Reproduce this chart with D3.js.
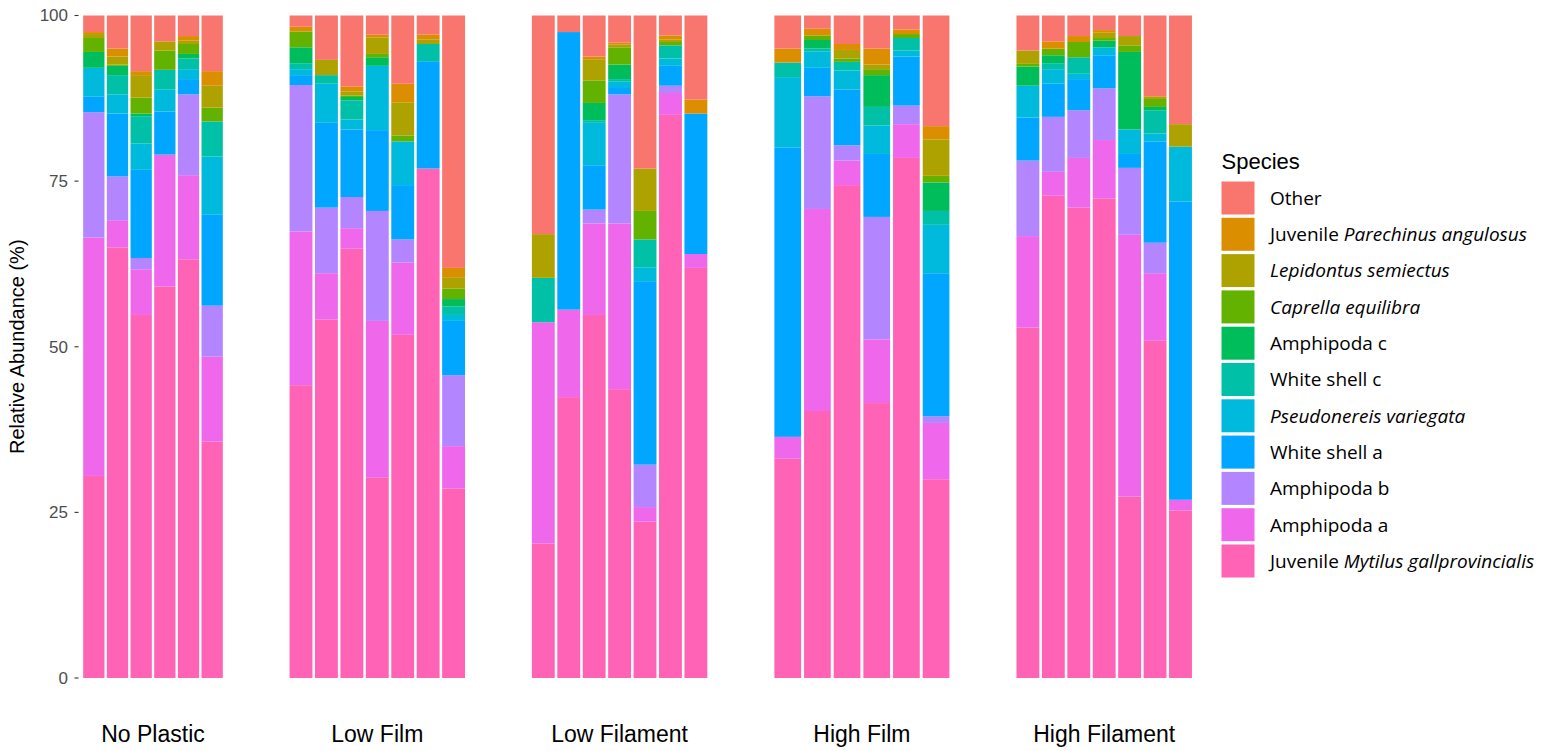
<!DOCTYPE html>
<html>
<head>
<meta charset="utf-8">
<script src="https://cdn.jsdelivr.net/npm/d3@7"></script>
<style>
  body { margin: 0; background: #fff; }
  svg { display: block; }
</style>
</head>
<body>
<div id="plot"></div>
<script>
// groups and number of samples in each
const groupNames = ["No Plastic", "Low Film", "Low Filament", "High Film", "High Filament"];
const groupSizes = [6, 7, 7, 6, 7];

// species, bottom of stack first
const speciesKeys = ["mytilus", "amphA", "amphB", "wsA", "pseudo", "wsC", "amphC", "caprella", "lepid", "parech", "other"];

// relative abundance (%) for every sample, in group order
const mytilus  = [30.5,65.0,54.8,59.1,63.2,35.7, 44.2,54.1,64.8,30.3,51.8,76.9,28.6, 20.3,42.4,54.8,43.6,23.6,85.0,61.9, 33.1,40.3,74.4,41.5,78.5,30.0, 52.9,72.8,71.0,72.4,27.4,50.9,25.3];
const amphA    = [36.0,4.1,6.9,19.9,12.7,12.8, 23.2,7.0,3.1,23.6,10.9,0,6.4, 33.4,13.2,13.8,25.0,2.2,3.3,2.1, 3.3,30.5,3.7,9.6,5.1,8.5, 13.8,3.6,7.5,8.8,39.5,10.2,1.6];
const amphB    = [18.9,6.6,1.7,0,12.2,7.7, 22.1,9.9,4.7,16.6,3.5,0,10.7, 0,0,2.1,19.5,6.4,1.1,0, 0,17.0,2.3,18.5,2.8,1.0, 11.4,8.3,7.2,7.8,10.1,4.6,0];
const wsA      = [2.4,9.5,13.3,6.5,2.3,13.8, 1.5,12.8,10.2,12.2,8.2,16.2,8.2, 0,41.9,6.7,1.1,27.7,3.0,21.2, 43.7,4.3,8.4,9.5,7.4,21.6, 6.5,5.0,4.7,5.0,2.1,15.3,45.0];
const pseudo   = [4.3,2.9,4.0,3.3,1.5,8.7, 0.9,5.9,1.5,9.7,6.6,0,0.9, 0,0,6.4,0.8,2.1,1.1,0, 10.6,2.5,2.9,4.3,0.9,7.3, 4.8,2.2,0.8,1.2,3.7,1.2,8.3];
const wsC      = [0,2.9,4.1,3.0,1.6,5.3, 0.9,1.3,2.9,0,0,2.6,1.3, 6.7,0,0.4,0.4,4.2,2.0,0, 2.2,0.4,1.3,2.8,1.9,2.1, 0,0.9,2.5,0,0,3.5,0];
const amphC    = [2.4,1.4,0.4,0,0.7,0, 2.4,0,0.5,1.3,0,0,1.1, 0,0,2.6,2.2,0,0,0, 0,1.3,0,4.8,0,4.3, 2.9,1.2,0,1.0,11.7,0.5,0];
const caprella = [2.1,0.2,2.4,2.9,1.5,2.1, 2.4,0,0.2,0.5,0.9,0,1.6, 0,0,3.4,2.6,4.3,0.5,0, 0,0.7,0.5,0.9,0.6,1.0, 0.4,1.0,2.3,0.4,1.0,1.2,0];
const lepid    = [0.6,1.2,3.4,1.4,0.5,3.3, 0,2.3,0.6,2.5,5.0,0.7,1.7, 6.6,0,3.2,0.4,6.4,0.4,0, 0,0,1.3,0.7,0,5.5, 2.0,0,0,0.8,1.4,0.4,3.4];
const parech   = [0.3,1.2,0.6,0,0.7,2.2, 0.7,0,0.8,0.4,2.8,0.7,1.4, 0,0,0.4,0.3,0,0.6,2.1, 2.1,1.0,0.9,2.4,0.7,2.0, 0,1.1,0.9,0.4,0,0,0];
const other    = [2.5,5.0,8.4,3.9,3.1,8.4, 1.7,6.7,10.7,2.9,10.3,2.9,38.1, 33.0,2.5,6.2,4.1,23.1,3.0,12.7, 5.0,2.0,4.3,5.0,2.1,16.7, 5.3,3.9,3.1,2.2,3.1,12.2,16.4];

const speciesValues = { mytilus, amphA, amphB, wsA, pseudo, wsC, amphC, caprella, lepid, parech, other };

// legend labels (top first), italic parts marked
const legendLabels = [
  [["Other", false]],
  [["Juvenile ", false], ["Parechinus angulosus", true]],
  [["Lepidontus semiectus", true]],
  [["Caprella equilibra", true]],
  [["Amphipoda c", false]],
  [["White shell c", false]],
  [["Pseudonereis variegata", true]],
  [["White shell a", false]],
  [["Amphipoda b", false]],
  [["Amphipoda a", false]],
  [["Juvenile ", false], ["Mytilus gallprovincialis", true]],
];
const yTicks = [0, 25, 50, 75, 100];

// ggplot default hue palette, "Other" first
const colors = ["#F8766D", "#DB8E00", "#AEA200", "#64B200", "#00BD5C", "#00C1A7",
                "#00BADE", "#00A6FF", "#B385FF", "#EF67EB", "#FF63B6"];
const color = d3.scaleOrdinal().domain(speciesKeys.slice().reverse()).range(colors);

const svgWidth = 1547, svgHeight = 751;
const axisFont = "'Liberation Sans', Arial, sans-serif";

const svg = d3.select("#plot").append("svg")
  .attr("width", svgWidth)
  .attr("height", svgHeight);

const y = d3.scaleLinear().domain([0, 100]).range([678, 15.5]);

// build one row per sample
let rows = [];
let k = 0;
groupNames.forEach((g, gi) => {
  for (let s = 0; s < groupSizes[gi]; s++) {
    const row = { group: g, sample: s };
    speciesKeys.forEach(key => row[key] = speciesValues[key][k]);
    rows.push(row);
    k++;
  }
});

const stack = d3.stack().keys(speciesKeys).offset(d3.stackOffsetExpand);
const series = stack(rows);

// panels
const panelX0 = 82;
const panelGap = 64.3;
const panelWidths = [142, 178, 178, 178, 178];
const panelStart = [];
let px = panelX0;
panelWidths.forEach(w => { panelStart.push(px); px += w + panelGap; });

const xScales = groupNames.map((g, gi) =>
  d3.scaleBand()
    .domain(d3.range(groupSizes[gi]))
    .range([panelStart[gi], panelStart[gi] + panelWidths[gi]])
    .paddingInner(0.1)
    .paddingOuter(0.05)
);
const groupIndex = new Map(groupNames.map((g, i) => [g, i]));

const layers = svg.append("g").selectAll("g")
  .data(series)
  .enter()
  .append("g")
  .attr("fill", d => color(d.key));

layers.selectAll("rect")
  .data(d => d)
  .enter()
  .append("rect")
  .attr("x", d => xScales[groupIndex.get(d.data.group)](d.data.sample))
  .attr("width", d => xScales[groupIndex.get(d.data.group)].bandwidth())
  .attr("y", d => y(d[1] * 100))
  .attr("height", d => y(d[0] * 100) - y(d[1] * 100));

// y axis ticks and labels
const yAxis = svg.append("g");
yAxis.selectAll("line")
  .data(yTicks)
  .enter()
  .append("line")
  .attr("x1", 74.5).attr("x2", 78.5)
  .attr("y1", d => y(d)).attr("y2", d => y(d))
  .attr("stroke", "#333").attr("stroke-width", 1.1);
yAxis.selectAll("text")
  .data(yTicks)
  .enter()
  .append("text")
  .attr("x", 68)
  .attr("y", d => y(d))
  .attr("dy", "0.35em")
  .attr("text-anchor", "end")
  .attr("font-family", axisFont)
  .attr("font-size", 17)
  .attr("fill", "#4D4D4D")
  .text(d => d);

svg.append("text")
  .attr("transform", `translate(24,${(y(0) + y(100)) / 2}) rotate(-90)`)
  .attr("text-anchor", "middle")
  .attr("font-family", axisFont)
  .attr("font-size", 20)
  .attr("fill", "#000")
  .text("Relative Abundance (%)");

// group labels
svg.append("g").selectAll("text")
  .data(groupNames)
  .enter()
  .append("text")
  .attr("x", (d, i) => panelStart[i] + panelWidths[i] / 2)
  .attr("y", 742)
  .attr("text-anchor", "middle")
  .attr("font-family", axisFont)
  .attr("font-size", 23)
  .attr("fill", "#000")
  .text(d => d);

// legend
const legend = svg.append("g").attr("transform", "translate(1221.5,0)");
legend.append("text")
  .attr("x", 0).attr("y", 169)
  .attr("font-family", axisFont)
  .attr("font-size", 22)
  .text("Species");

const keyTop = 181.5, keyStep = 36.3, keySize = 33;
const legendItems = legend.selectAll(".item")
  .data(legendLabels)
  .enter()
  .append("g")
  .attr("class", "item")
  .attr("transform", (d, i) => `translate(0,${keyTop + i * keyStep})`);

legendItems.append("rect")
  .attr("width", keySize).attr("height", keySize)
  .attr("fill", (d, i) => colors[i]);

const labelText = legendItems.append("text")
  .attr("x", 48.5)
  .attr("y", keySize / 2)
  .attr("dy", "0.36em")
  .attr("font-family", "'Open Sans', 'Noto Sans', sans-serif")
  .attr("font-size", 19)
  .attr("fill", "#000");

labelText.selectAll("tspan")
  .data(d => d)
  .enter()
  .append("tspan")
  .attr("font-style", d => d[1] ? "italic" : "normal")
  .text(d => d[0]);
</script>
</body>
</html>
